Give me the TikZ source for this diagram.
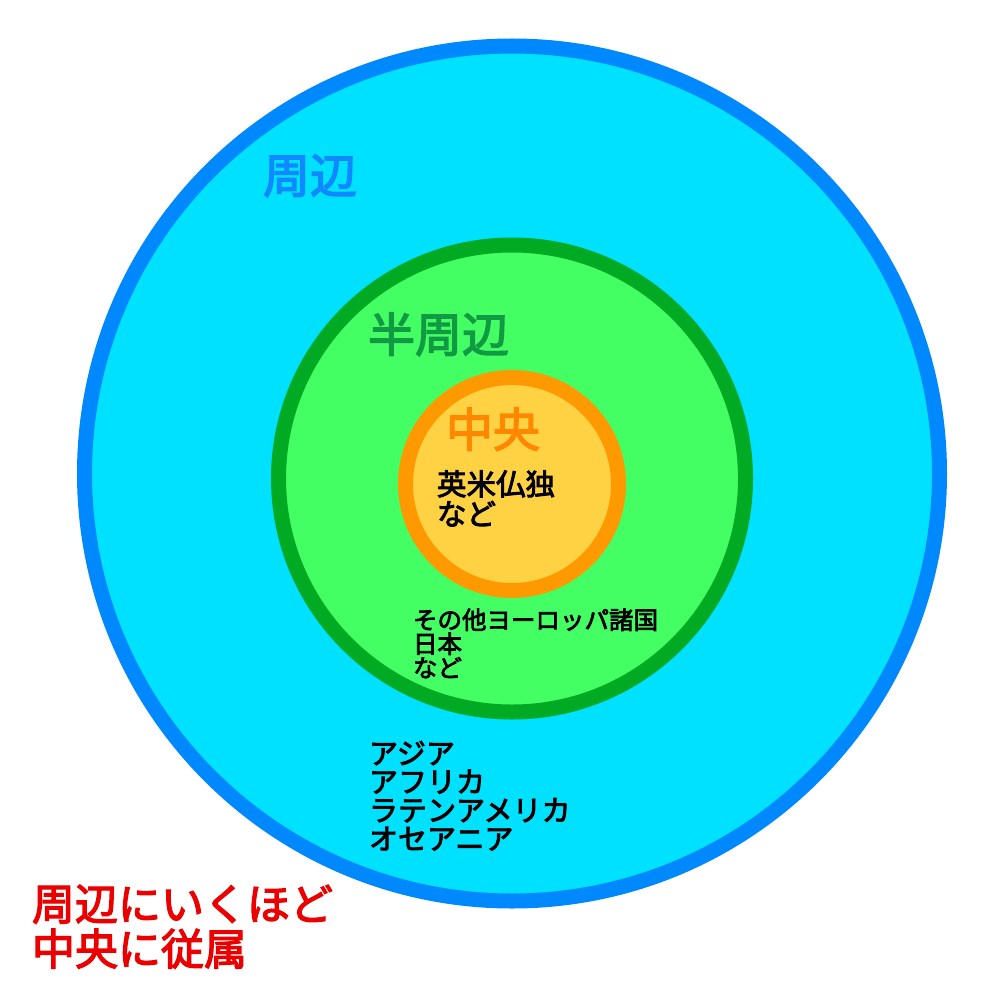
\documentclass[tikz,border=0pt]{standalone}
\usepackage{fontspec}
\setmainfont{Noto Sans CJK JP}
\newfontfamily\jpfont[FakeBold=3]{Noto Sans CJK JP}
\definecolor{ringblue}{RGB}{0,136,255}
\definecolor{fillcyan}{RGB}{0,224,255}
\definecolor{ringgreen}{RGB}{0,170,34}
\definecolor{fillgreen}{RGB}{68,255,100}
\definecolor{ringorange}{RGB}{255,153,0}
\definecolor{fillyellow}{RGB}{255,210,68}
\definecolor{txtblue}{RGB}{17,136,255}
\definecolor{txtgreen}{RGB}{17,153,68}
\definecolor{txtorange}{RGB}{255,136,0}
\definecolor{txtred}{RGB}{235,0,0}
\tikzset{
  ring/.style={circle, inner sep=0pt, outer sep=0pt, line width=15pt},
  lbl/.style={anchor=base west, inner sep=0pt, outer sep=0pt},
  big/.style={lbl, font=\jpfont\fontsize{47}{47}\selectfont},
  mid/.style={lbl, font=\jpfont\fontsize{29.5}{30}\selectfont},
  small/.style={lbl, font=\jpfont\fontsize{24.5}{24}\selectfont},
  asia/.style={lbl, font=\jpfont\fontsize{29}{29}\selectfont},
  note/.style={lbl, font=\jpfont\fontsize{43}{45}\selectfont, text=txtred}
}
\begin{document}
\begin{tikzpicture}[x=1pt,y=-1pt]
\useasboundingbox[fill=white] (0,0) rectangle (1000,1000);
% rings
\node[ring, draw=ringblue, fill=fillcyan, minimum size=855pt] (periphery) at (512,473.5) {};
\node[ring, draw=ringgreen, fill=fillgreen, minimum size=467pt] (semi) at (512,478.5) {};
\node[ring, draw=ringorange, fill=fillyellow, minimum size=213pt] (core) at (512,484) {};
% titles
\node[big, text=txtblue] (tperi) at (263,193) {周辺};
\node[big, text=txtgreen] (tsemi) at (368,352) {半周辺};
\node[big, text=txtorange] (tcore) at (446,447) {中央};
% core members
\node[mid] (c1) at (437,495) {英米仏独};
\node[mid] (c2) at (437,525) {など};
% semi-periphery members
\node[small] (s1) at (413,629) {その他ヨーロッパ諸国};
\node[small] (s2) at (413,653) {日本};
\node[small] (s3) at (413,677) {など};
% periphery members
\node[asia] (p1) at (369,764) {アジア};
\node[asia] (p2) at (369,792.5) {アフリカ};
\node[asia] (p3) at (369,821) {ラテンアメリカ};
\node[asia] (p4) at (369,849.5) {オセアニア};
% note
\node[note] (n1) at (32,920) {周辺にいくほど};
\node[note] (n2) at (32,965) {中央に従属};
\end{tikzpicture}
\end{document}
